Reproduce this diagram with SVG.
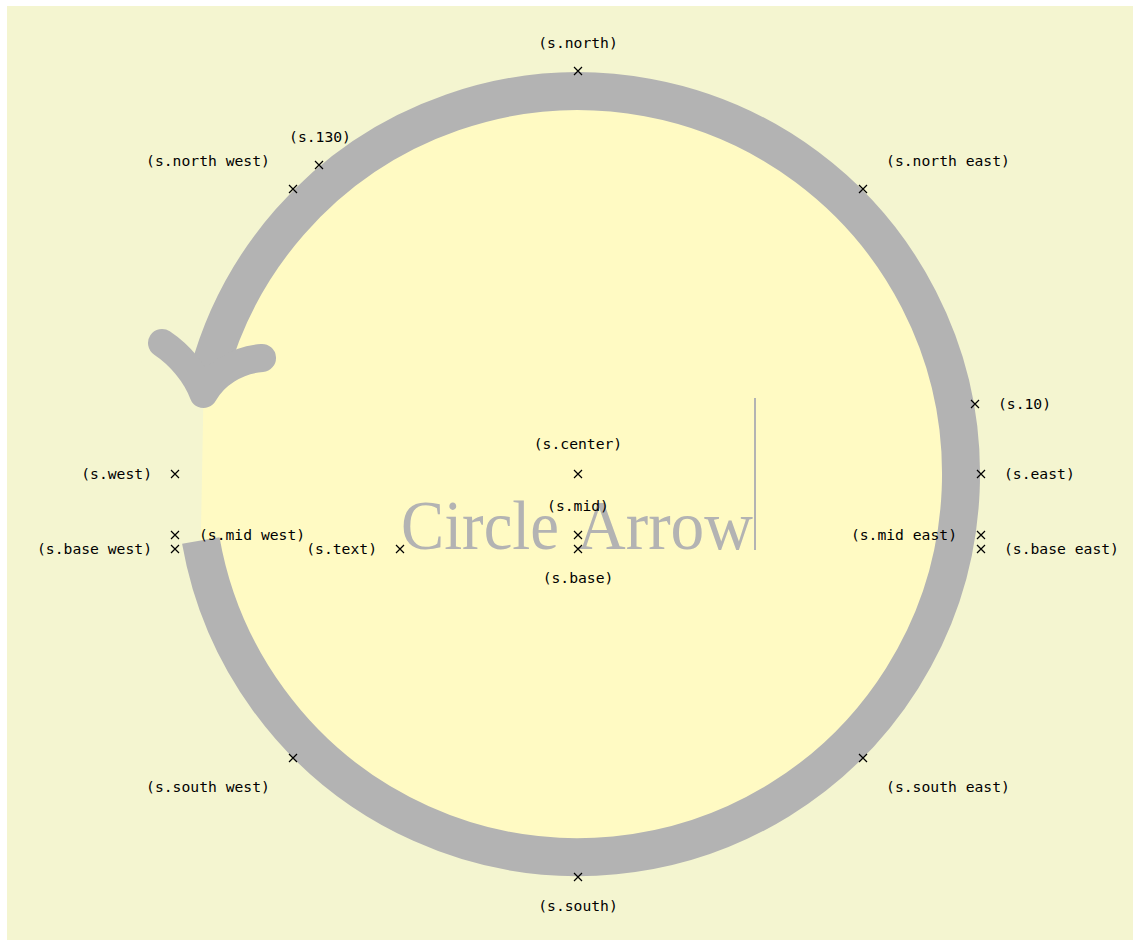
<svg xmlns="http://www.w3.org/2000/svg" xmlns:xlink="http://www.w3.org/1999/xlink" width="1133" height="940" viewBox="0 0 1133 940">
  <style>
    .lbl { font-family: "DejaVu Sans Mono", "Liberation Mono", monospace; font-size: 14.7px; fill: #000; }
    .mid { text-anchor: middle; }
    .end { text-anchor: end; }
    .band { fill: none; stroke: #b3b3b3; }
    .x { stroke: #000; stroke-width: 1.2; fill: none; }
    .big { font-family: "Liberation Serif", "Times New Roman", serif; font-size: 70px; fill: #b3b3b3; }
  </style>
  <defs>
    <path id="cross" class="x" d="M-4,-4 L4,4 M-4,4 L4,-4"/>
  </defs>
  <rect id="background" x="7" y="6" width="1126" height="934" fill="#f4f5d0"/>
  <g id="s">
    <path d="M 200.8 540.5 A 383 383 0 1 0 203.5 394 Z" fill="#fffac3"/>
    <g id="connectors">
      <path class="band" stroke-width="38" stroke-linecap="butt" d="M 200.8 540.5 A 383 383 0 1 0 208.1 374.9"/>
      <path class="band" stroke-width="28" stroke-linecap="round" stroke-linejoin="round" d="M 162 343 C 180 355 196 374 203.5 394 C 214 375 236 360 262 358"/>
    </g>
    <text class="big" x="401" y="549" textLength="158" lengthAdjust="spacingAndGlyphs">Circle</text>
    <text class="big" x="577" y="549" textLength="176" lengthAdjust="spacingAndGlyphs">Arrow</text>
    <line x1="755" y1="398" x2="755" y2="550" stroke="#b3b3b3" stroke-width="2"/>
  </g>
  <g id="a-north"><use xlink:href="#cross" x="578" y="71"/><text class="lbl mid" x="578" y="48">(s.north)</text></g>
  <g id="a-north-east"><use xlink:href="#cross" x="863" y="189"/><text class="lbl mid" x="948" y="166">(s.north east)</text></g>
  <g id="a-north-west"><use xlink:href="#cross" x="293" y="189"/><text class="lbl mid" x="208" y="166">(s.north west)</text></g>
  <g id="a-130"><use xlink:href="#cross" x="319" y="165"/><text class="lbl mid" x="320" y="142">(s.130)</text></g>
  <g id="a-10"><use xlink:href="#cross" x="975" y="404"/><text class="lbl" x="998" y="409">(s.10)</text></g>
  <g id="a-east"><use xlink:href="#cross" x="981" y="474"/><text class="lbl" x="1004" y="479">(s.east)</text></g>
  <g id="a-west"><use xlink:href="#cross" x="175" y="474"/><text class="lbl end" x="152" y="479">(s.west)</text></g>
  <g id="a-center"><use xlink:href="#cross" x="578" y="474"/><text class="lbl mid" x="578" y="449">(s.center)</text></g>
  <g id="a-mid"><use xlink:href="#cross" x="578" y="535"/><text class="lbl mid" x="578" y="511">(s.mid)</text></g>
  <g id="a-base"><use xlink:href="#cross" x="578" y="549"/><text class="lbl mid" x="578" y="583">(s.base)</text></g>
  <g id="a-text"><use xlink:href="#cross" x="400" y="549"/><text class="lbl end" x="377" y="554">(s.text)</text></g>
  <g id="a-mid-west"><use xlink:href="#cross" x="175" y="535"/><text class="lbl" x="199" y="540">(s.mid west)</text></g>
  <g id="a-base-west"><use xlink:href="#cross" x="175" y="549"/><text class="lbl end" x="152" y="554">(s.base west)</text></g>
  <g id="a-mid-east"><use xlink:href="#cross" x="981" y="535"/><text class="lbl end" x="957" y="540">(s.mid east)</text></g>
  <g id="a-base-east"><use xlink:href="#cross" x="981" y="549"/><text class="lbl" x="1004" y="554">(s.base east)</text></g>
  <g id="a-south-west"><use xlink:href="#cross" x="293" y="758"/><text class="lbl mid" x="208" y="792">(s.south west)</text></g>
  <g id="a-south-east"><use xlink:href="#cross" x="863" y="758"/><text class="lbl mid" x="948" y="792">(s.south east)</text></g>
  <g id="a-south"><use xlink:href="#cross" x="578" y="877"/><text class="lbl mid" x="578" y="911">(s.south)</text></g>
</svg>
